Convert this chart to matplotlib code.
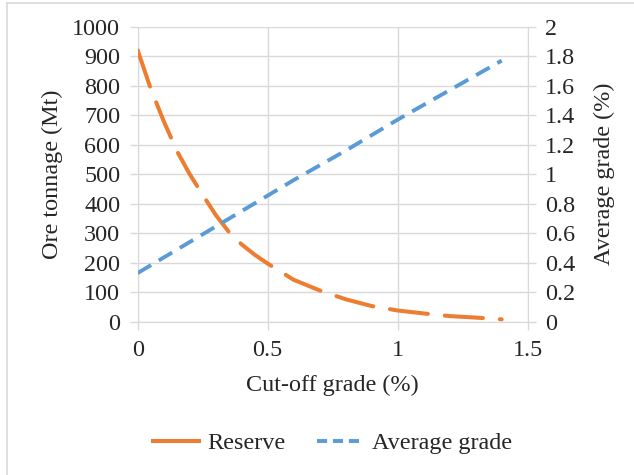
import matplotlib
matplotlib.use("Agg")
import matplotlib.pyplot as plt
from matplotlib.lines import Line2D

# Data
cutoff_reserve = [0, 0.05, 0.1, 0.15, 0.2, 0.25, 0.3, 0.35, 0.4, 0.45, 0.5,
                  0.6, 0.7, 0.8, 0.9, 1.0, 1.1, 1.2, 1.3, 1.4]
reserve_mt = [920, 790, 680, 580, 500, 430, 362, 305, 262, 227, 197,
              142, 106, 76, 53, 38, 28, 19, 14, 8]
cutoff_grade = [0, 0.2, 0.4, 0.6, 0.8, 1.0, 1.2, 1.4]
avg_grade = [0.33, 0.54, 0.75, 0.96, 1.16, 1.37, 1.57, 1.77]

xticks = [0, 0.5, 1, 1.5]
xticklabels = ["0", "0.5", "1", "1.5"]
yticks_left = list(range(0, 1001, 100))
yticks_right = [0, 0.2, 0.4, 0.6, 0.8, 1.0, 1.2, 1.4, 1.6, 1.8, 2.0]
yticklabels_right = ["0", "0.2", "0.4", "0.6", "0.8", "1", "1.2", "1.4", "1.6", "1.8", "2"]

ORANGE = "#ED7D31"
BLUE = "#5B9BD5"
GRID = "#d9d9d9"
TXT = "#262626"
FS = 17.4

plt.rcParams['font.family'] = ['Liberation Serif', 'DejaVu Serif']

fig = plt.figure(figsize=(6.34, 4.75), dpi=100)
W, H = 634, 475
x0, x1, ytop, ybot = 137.7, 527.7, 26.7, 321.7
ax = fig.add_axes([x0 / W, 1 - ybot / H, (x1 - x0) / W, (ybot - ytop) / H])
ax2 = ax.twinx()

ax.plot(cutoff_reserve, reserve_mt, color=ORANGE, lw=2.9, dashes=(9.5, 4.2),
        solid_capstyle='round', dash_capstyle='round', zorder=3)
ax2.plot(cutoff_grade, avg_grade, color=BLUE, lw=2.8, dashes=(4.0, 2.3), zorder=3)

ax.set_xlim(0, 1.5)
ax.set_ylim(0, 1000)
ax2.set_ylim(0, 2)
ax.set_xticks(xticks)
ax.set_xticklabels(xticklabels)
ax.set_yticks(yticks_left)
ax2.set_yticks(yticks_right)
ax2.set_yticklabels(yticklabels_right)

ax.grid(True, color=GRID, lw=1.0)
ax.set_axisbelow(True)

for a in (ax, ax2):
    for s in a.spines.values():
        s.set_visible(False)
    a.tick_params(colors=GRID, labelcolor=TXT, labelsize=FS, length=5.5, width=1.0, pad=7)
ax.spines['left'].set_visible(True)
ax.spines['bottom'].set_visible(True)
ax2.spines['right'].set_visible(True)
ax.spines['left'].set_color(GRID)
ax.spines['bottom'].set_color(GRID)
ax2.spines['right'].set_color(GRID)
ax.tick_params(axis='x', pad=8)

ax.set_xlabel("Cut-off grade (%)", fontsize=FS, color=TXT)
ax.xaxis.label.set_va('center')
ax.xaxis.set_label_coords(0.5, (ybot - 385) / (ybot - ytop))
ax.set_ylabel("Ore tonnage (Mt)", fontsize=FS, color=TXT)
ax.yaxis.label.set_va('center')
ax.yaxis.set_label_coords((52 - x0) / (x1 - x0), 0.5)
ax2.set_ylabel("Average grade (%)", fontsize=FS, color=TXT)
ax2.yaxis.label.set_va('center')
ax2.yaxis.set_label_coords((604 - x0) / (x1 - x0), 0.5)

handles = [Line2D([], [], color=ORANGE, lw=2.9),
           Line2D([], [], color=BLUE, lw=2.8, dashes=(2.6, 1.5))]
fig.legend(handles, ["Reserve", "Average grade"], loc='center',
           bbox_to_anchor=(332.5 / W, 1 - 443 / H), ncol=2, frameon=False,
           fontsize=FS, handlelength=1.9, handletextpad=0.35, columnspacing=1.3,
           labelcolor=TXT)

# Chart-area border (top & left visible in crop)
fig.add_artist(Line2D([7 / W, 1], [1 - 3 / H, 1 - 3 / H], color=GRID, lw=1.2))
fig.add_artist(Line2D([7 / W, 7 / W], [0, 1 - 3 / H], color=GRID, lw=1.2))

fig.savefig("out.png", dpi=100)
